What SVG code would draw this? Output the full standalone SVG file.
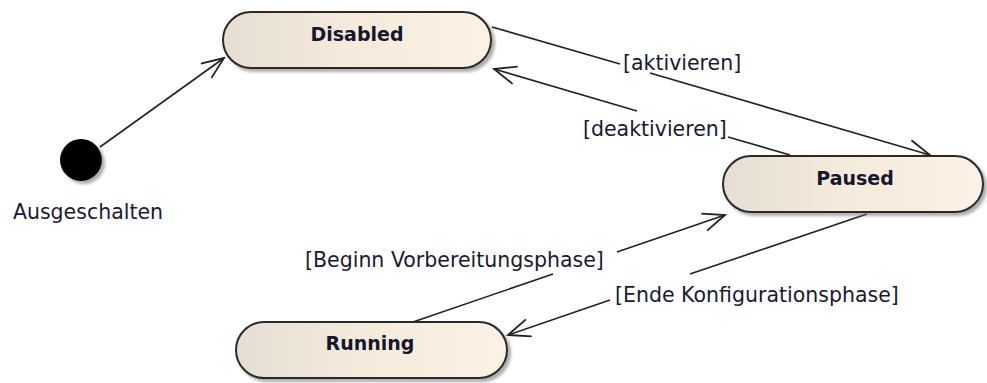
<svg xmlns="http://www.w3.org/2000/svg" width="987" height="383" viewBox="0 0 987 383">
  <style>
    .state { stroke: #2a2a2a; stroke-width: 2; fill: url(#stateFill); filter: url(#shadow); }
    .state-name { font-family: "DejaVu Sans", Verdana, sans-serif; font-weight: bold; font-size: 19px; fill: #16162c; text-anchor: middle; }
    .guard { font-family: "DejaVu Sans", Verdana, sans-serif; font-size: 20.5px; fill: #1a1a30; }
    .edge { fill: none; stroke: #222; stroke-width: 1.6; marker-end: url(#open); }
  </style>
  <defs>
    <linearGradient id="stateFill" x1="0" y1="0" x2="1" y2="0">
      <stop offset="0" stop-color="#E6DED3"/>
      <stop offset="0.5" stop-color="#F5EBDD"/>
      <stop offset="1" stop-color="#FBF1E4"/>
    </linearGradient>
    <filter id="shadow" x="-10%" y="-20%" width="125%" height="160%">
      <feDropShadow dx="3" dy="3" stdDeviation="1.5" flood-color="#777" flood-opacity="0.6"/>
    </filter>
    <marker id="open" markerUnits="userSpaceOnUse" markerWidth="26" markerHeight="22" viewBox="0 0 26 22" refX="24" refY="11" orient="auto">
      <path d="M2,2 L24,11 L2,20" fill="none" stroke="#222" stroke-width="1.8"/>
    </marker>
  </defs>

  <g id="connectors">
    <!-- initial pseudostate to Disabled -->
    <path class="edge" d="M100,147 L224,58"/>
    <!-- Disabled to Paused -->
    <path class="edge" d="M492,27 L620,64 M650,73 L930,155"/>
    <!-- Paused to Disabled -->
    <path class="edge" d="M790,155 L728,137 M637,111 L494,69"/>
    <!-- Running to Paused -->
    <path class="edge" d="M413,322 L553,274 M617,252 L725,215"/>
    <!-- Paused to Running -->
    <path class="edge" d="M867,214 L690,274 M610,300 L508,335"/>
  </g>

  <g id="labels">
    <text class="guard" x="623" y="70">[aktivieren]</text>
    <text class="guard" x="583" y="136">[deaktivieren]</text>
    <text class="guard" x="305" y="267">[Beginn Vorbereitungsphase]</text>
    <text class="guard" x="615" y="302">[Ende Konfigurationsphase]</text>
  </g>

  <g id="initial">
    <circle cx="81" cy="160" r="21" fill="#000" filter="url(#shadow)"/>
    <text class="guard" x="88" y="219" text-anchor="middle">Ausgeschalten</text>
  </g>

  <g id="disabled">
    <rect class="state" x="223" y="12" width="268" height="56" rx="28" ry="28"/>
    <text class="state-name" x="357" y="41">Disabled</text>
  </g>

  <g id="paused">
    <rect class="state" x="723" y="156" width="260" height="56" rx="28" ry="28"/>
    <text class="state-name" x="855" y="185">Paused</text>
  </g>

  <g id="running">
    <rect class="state" x="236" y="322" width="271" height="56" rx="28" ry="28"/>
    <text class="state-name" x="370" y="350">Running</text>
  </g>
</svg>
